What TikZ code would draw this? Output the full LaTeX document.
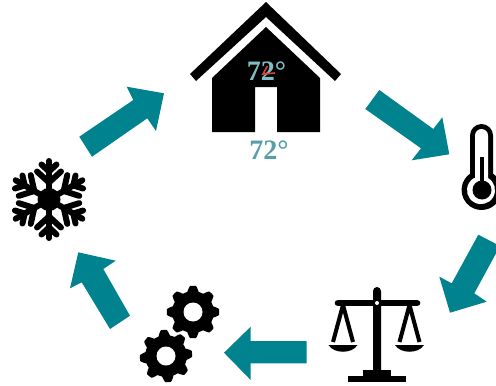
\documentclass[tikz,border=0pt]{standalone}
\usepackage{fontspec}
\setmainfont{Liberation Serif}
\usepackage{tikz}
\definecolor{flowTeal}{RGB}{0,131,143}
\definecolor{tempTeal}{RGB}{88,158,168}
\definecolor{tempLight}{RGB}{128,190,198}
\definecolor{markRed}{RGB}{226,62,58}
\tikzset{
  flowarrow/.style={fill=flowTeal},
  icon/.style={fill=black},
  hole/.style={fill=white},
  flakeline/.style={draw=black,line width=3.4pt,line cap=round,line join=round},
  templabel/.style={font=\fontsize{16}{16}\selectfont\bfseries,inner sep=0pt},
}
\begin{document}
\begin{tikzpicture}[x=0.02cm,y=-0.02cm]
  \clip (0,0) rectangle (496,385);
  \fill[white] (0,0) rectangle (496,385);
  % arrows
  \fill[flowarrow] (79.3,136.7)--(133.3,100)--(126.7,86.7)--(164,93.3)--(156,131)--(147.3,118.3)--(92,156.7)--cycle;
  \fill[flowarrow] (365.3,109)--(379.3,90)--(433.3,129)--(442.3,117.3)--(449.3,154.3)--(411.7,160.3)--(421,148.3)--cycle;
  \fill[flowarrow] (478.3,234.7)--(500,246)--(474.3,293.3)--(486.7,301.7)--(450,312.7)--(439.3,276.7)--(451.7,283.3)--cycle;
  \fill[flowarrow] (306.7,341)--(250.7,341)--(250.7,326.7)--(224,352.7)--(250.7,380)--(250.7,363.3)--(306.7,363.3)--cycle;
  \fill[flowarrow] (130,315.7)--(110,329)--(81.7,282.3)--(70,288.3)--(78.3,252.3)--(115.7,260.7)--(103.3,269)--cycle;
  % house
  \fill[icon] (190,74)--(266,2)--(341,74)--(335,81)--(266,17)--(196,81)--cycle;
  \fill[icon] (212,78)--(266,27)--(320,78)--(320,132)--(277,132)--(277,87)--(255,87)--(255,132)--(212,132)--cycle;
  \node[templabel,text=tempLight] (inside) at (266.5,71) {72°};
  \draw[markRed,line width=0.9pt] (267.5,66)--(263,74)--(275,73);
  \node[templabel,text=tempTeal] (outside) at (269,150) {72°};
  % thermometer
  \fill[icon] (470,174) -- (470,135.5) arc (180:360:11.5) -- (493,173.6) arc (-55:235:20) -- cycle;
  \fill[hole] (475,178) -- (475,135.5) arc (180:360:6.5) -- (488,178) arc (-60:240:14) -- cycle;
  \fill[icon] (482,190) circle (9.5);
  \fill[icon] (480.2,157) rectangle (483.8,185);
  % scales
  \fill[icon] (373,291) arc (180:360:4) -- (381,371) -- (373,371) -- cycle;
  \draw[line width=3.8pt,line cap=round] (338,303) -- (417,303);
  \fill[icon] (377,303) circle (5);
  \fill[hole] (377,303) circle (2);
  \foreach \px in {343,409.5}{
    \draw[line width=2.3pt,line join=round] (\px-10,342) -- (\px,305) -- (\px+10,342);
    \fill[icon] (\px-14.5,345) .. controls (\px-9,354) and (\px+9,354) .. (\px+14.5,345) -- cycle;
  }
  \fill[icon] (363,370) rectangle (391,377);
  \fill[icon] (348,376) rectangle (406,382);
  % gears
  \foreach \gx/\gy/\gr in {193/312/0,166/356/5}{
    \begin{scope}[shift={(\gx,\gy)}]
      \fill[icon,smooth] plot[domain=0:360,samples=241]
        ({(23.5+2.7*max(-1,min(1,1.6*cos(8*(\x+\gr)))))*cos(\x)},{(23.5+2.7*max(-1,min(1,1.6*cos(8*(\x+\gr)))))*sin(\x)}) -- cycle;
      \fill[hole] (0,0) circle (9.5);
    \end{scope}
  }
  % snowflake
  \fill[icon] (49,199.5) circle (11.5);
  \foreach \a in {30,90,...,330}{
    \begin{scope}[shift={(49,199.5)},rotate=\a]
      \draw[flakeline] (0,0) -- (38.5,0);
      \draw[flakeline] (17,0) -- (28,-12);
      \draw[flakeline] (17,0) -- (28,12);
      \draw[flakeline] (28,0) -- (35,-7.5);
      \draw[flakeline] (28,0) -- (35,7.5);
    \end{scope}
  }
\end{tikzpicture}
\end{document}
